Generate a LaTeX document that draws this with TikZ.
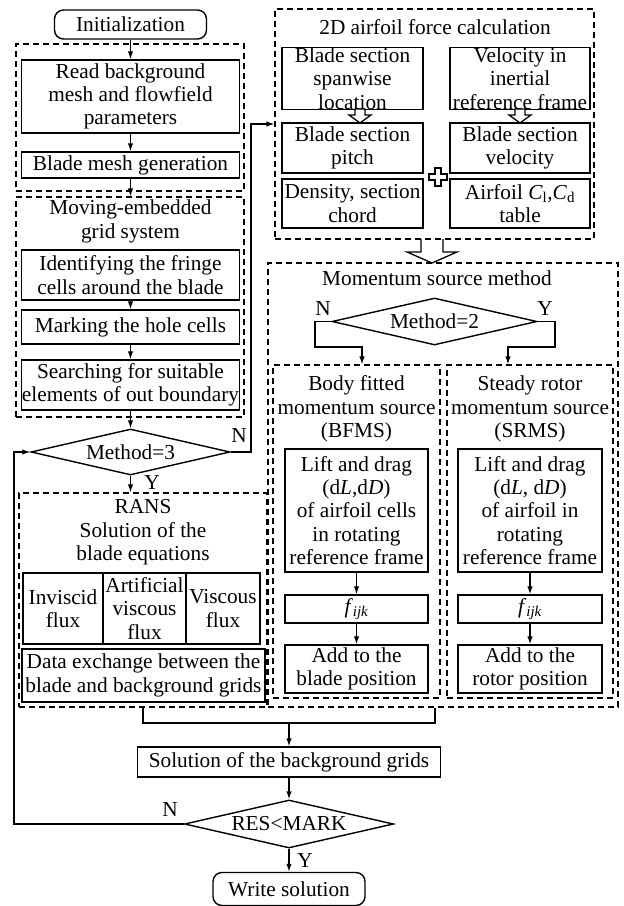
\documentclass[tikz,border=0pt]{standalone}
\usepackage{fontspec}
\setmainfont{Liberation Serif}
\usetikzlibrary{arrows.meta,shapes.geometric}
\begin{document}
\begin{tikzpicture}[x=1pt,y=-1pt,
  every node/.style={font=\fontsize{21.3pt}{23.3pt}\selectfont, inner sep=0pt, align=center},
  sbox/.style={draw, line width=1.4pt, rectangle},
  rbox/.style={draw, line width=1.4pt, rectangle, rounded corners=9pt},
  dbox/.style={draw, line width=1.2pt, dash pattern=on 6pt off 4pt, rectangle},
  dia/.style={draw, line width=1.4pt, diamond, aspect=4.4},
  ln/.style={line width=1.3pt},
  arr/.style={line width=1.3pt, -{Latex[length=8pt,width=5.5pt]}},
  hollow/.style={draw, line width=1.3pt, fill=white, line join=miter},
  lbl/.style={font=\fontsize{21.3pt}{23.3pt}\selectfont}
]
\path[use as bounding box] (0,0) rectangle (624,906);

% ---------- left column ----------
\node[rbox, minimum width=152pt, minimum height=29pt] (init) at (130.5,24.5) {Initialization};
\node[dbox, minimum width=228pt, minimum height=147pt] (g1) at (130,117.5) {};
\node[sbox, minimum width=218pt, minimum height=73pt] (read) at (130.5,96.5) {Read background\\mesh and flowfield\\parameters};
\node[sbox, minimum width=218pt, minimum height=26pt] (mesh) at (130.5,165) {Blade mesh generation};

\node[dbox, minimum width=228pt, minimum height=220pt] (g2) at (130,307) {};
\node (t2) at (130.5,221.5) {Moving-embedded\\grid system};
\node[sbox, minimum width=218pt, minimum height=50pt] (ident) at (130.5,275) {Identifying the fringe\\cells around the blade};
\node[sbox, minimum width=218pt, minimum height=34pt] (mark) at (130.5,327) {Marking the hole cells};
\node[sbox, minimum width=218pt, minimum height=50pt] (search) at (130.5,385) {Searching for suitable\\elements of out boundary};

\node[dia, minimum width=199pt, minimum height=46pt] (m3) at (130.5,452) {Method=3};
\node[lbl] (n3) at (239,436) {N};
\node[lbl] (y3) at (152,483) {Y};

\node[dbox, minimum width=248pt, minimum height=214pt] (gr) at (143,600) {};
\node (tr) at (143,532.5) {RANS\\Solution of the\\blade equations};
\node[sbox, minimum width=80pt, minimum height=71pt] (inv) at (63,608.5) {Inviscid\\flux};
\node[sbox, minimum width=83pt, minimum height=71pt] (art) at (144.5,608.5) {Artificial\\viscous\\flux};
\node[sbox, minimum width=74pt, minimum height=71pt] (visc) at (223,608.5) {Viscous\\flux};
\node[sbox, line width=1.9pt, minimum width=243pt, minimum height=53pt] (data) at (143.5,675.5) {Data exchange between the\\blade and background grids};

% ---------- 2D airfoil ----------
\node[dbox, minimum width=319pt, minimum height=230pt] (g3) at (434.5,124) {};
\node (t3) at (435,27) {2D airfoil force calculation};
\node[sbox, minimum width=141pt, minimum height=61pt] (b1) at (352.5,78.5) {Blade section\\spanwise\\location};
\node[sbox, minimum width=140pt, minimum height=61pt] (b2) at (520,78.5) {Velocity in\\inertial\\reference frame};
\node[sbox, minimum width=141pt, minimum height=50pt] (b3) at (352.5,148) {Blade section\\pitch};
\node[sbox, minimum width=140pt, minimum height=50pt] (b4) at (520,148) {Blade section\\velocity};
\node[sbox, minimum width=141pt, minimum height=49pt] (b5) at (352.5,203.5) {Density, section\\chord};
\node[sbox, minimum width=140pt, minimum height=49pt] (b6) at (520,203.5) {Airfoil \textit{C}\textsubscript{l},\textit{C}\textsubscript{d}\\table};

% small hollow arrows
\draw[hollow, shift={(360,109)}] (-5,0) -- (5,0) -- (5,6) -- (11,6) -- (0,14) -- (-11,6) -- (-5,6) -- cycle;
\draw[hollow, shift={(520,109)}] (-5,0) -- (5,0) -- (5,6) -- (11,6) -- (0,14) -- (-11,6) -- (-5,6) -- cycle;
% plus
\draw[hollow, shift={(438,177)}] (-3,-9) -- (3,-9) -- (3,-3) -- (9,-3) -- (9,3) -- (3,3) -- (3,9) -- (-3,9) -- (-3,3) -- (-9,3) -- (-9,-3) -- (-3,-3) -- cycle;

% ---------- momentum source ----------
\node[dbox, minimum width=350pt, minimum height=444pt] (g4) at (443,485) {};
% big hollow arrow
\draw[line width=1.3pt, line join=miter, shift={(432,239)}] (-11,0) -- (-11,13) -- (-25,13) -- (0,24) -- (25,13) -- (11,13) -- (11,0);
\node (t4) at (437,278) {Momentum source method};
\node[dia, minimum width=205pt, minimum height=47pt] (m2) at (434.5,321.5) {Method=2};
\node[lbl] (n2) at (323,309) {N};
\node[lbl] (y2) at (545,309) {Y};

\node[dbox, minimum width=167pt, minimum height=333pt] (g5) at (356.5,531.5) {};
\node[dbox, minimum width=166pt, minimum height=333pt] (g6) at (530,531.5) {};
\node (t5) at (356.5,409) {Body fitted\\momentum source\\(BFMS)};
\node (t6) at (530,409) {Steady rotor\\momentum source\\(SRMS)};
\node[sbox, minimum width=143pt, minimum height=123pt] (l1) at (356.5,510.5) {Lift and drag\\(d\textit{L},d\textit{D})\\of airfoil cells\\in rotating\\reference frame};
\node[sbox, minimum width=144pt, minimum height=123pt] (l2) at (530,510.5) {Lift and drag\\(d\textit{L}, d\textit{D})\\of airfoil in\\rotating\\reference frame};
\node[sbox, minimum width=143pt, minimum height=28pt] (f1) at (356.5,609) {\textit{f}\textsubscript{\textit{ijk}}};
\node[sbox, minimum width=144pt, minimum height=28pt] (f2) at (530,609) {\textit{f}\textsubscript{\textit{ijk}}};
\node[sbox, minimum width=143pt, minimum height=48pt] (a1) at (356.5,669) {Add to the\\blade position};
\node[sbox, minimum width=144pt, minimum height=48pt] (a2) at (530,669) {Add to the\\rotor position};

% ---------- bottom ----------
\node[sbox, minimum width=303pt, minimum height=30pt] (sol) at (289,762) {Solution of the background grids};
\node[dia, minimum width=209pt, minimum height=48pt] (res) at (289,824) {RES<MARK};
\node[lbl] (nr) at (170,810) {N};
\node[lbl] (yr) at (305,861) {Y};
\node[rbox, minimum width=152pt, minimum height=33pt] (write) at (289,889) {Write solution};

% ---------- coordinates ----------
\coordinate (c1) at (362,347);
\coordinate (c2) at (508,347);
\coordinate (c3) at (251,124);
\coordinate (c5) at (435,723);
\coordinate (mj) at (289,723);
\coordinate (lp) at (14,824);

% ---------- connectors ----------
\draw[arr] (init) -- (read);
\draw[arr] (read) -- (mesh);
\draw[arr] (mesh.south) -- (mesh.south |- g2.north);
\draw[arr] (ident) -- (mark);
\draw[arr] (mark) -- (search);
\draw[arr] (search.south) -- (search.south |- m3.north);
\draw[arr] (m3.east) -| (c3) -- (c3 -| g3.west);
\draw[arr] (m3.south) -- (m3.south |- gr.north);

\draw[arr] (m2.west) -| (315,347) -- (c1) -- (c1 |- g5.north);
\draw[arr] (m2.east) -| (555,347) -- (c2) -- (c2 |- g6.north);
\draw[arr] (l1) -- (f1);
\draw[arr] (f1) -- (a1);
\draw[arr] (l2) -- (f2);
\draw[arr] (f2) -- (a2);

\draw[ln] (gr.south) |- (c5) -- (c5 |- g4.south);
\draw[arr] (mj) -- (sol.north);
\draw[arr] (sol) -- (res);
\draw[arr] (res) -- (write);
\draw[arr] (res.west) -- (lp) |- (m3.west);
\end{tikzpicture}
\end{document}
